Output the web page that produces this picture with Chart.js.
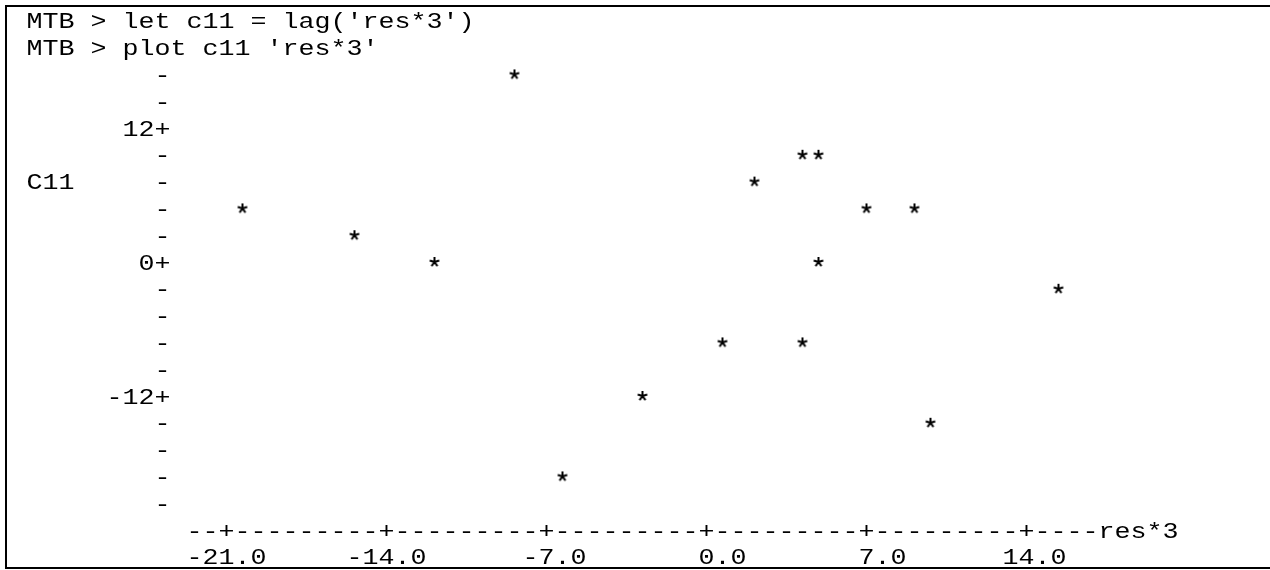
<!DOCTYPE html>
<html>
<head>
<meta charset="utf-8">
<script src="https://cdn.jsdelivr.net/npm/chart.js@4"></script>
<style>
  html, body { margin: 0; padding: 0; background: #fff; }
  #wrap { width: 1270px; height: 570px; }
</style>
</head>
<body>
<div id="wrap"><canvas id="chart" width="1270" height="570"></canvas></div>
<script>
// session text and axis labels
const commandLines = ["MTB > let c11 = lag('res*3')", "MTB > plot c11 'res*3'"];
const yName = 'C11';
const xName = 'res*3';
const xTicks = [-21, -14, -7, 0, 7, 14];
const yTicks = [12, 0, -12];

// plotted points (res*3 across, C11 up)
const res3 = [-8.4, 4.2, 4.9, 2.1, -20.3, 7.0, 9.1, -15.4, -11.9, 4.9, 15.4, 0.7, 4.2, -2.8, 9.8, -6.3];
const c11  = [16.8, 9.6, 9.6, 7.2, 4.8, 4.8, 4.8, 2.4, 0, 0, -2.4, -7.2, -7.2, -12, -14.4, -19.2];

// character grid of the printout
const W = 1270, H = 570;
const CELL_W = 16;      // width of one character
const ROW_H = 26.8;     // line spacing
const COL0_X = 26.5;    // left edge of column 0
const ROW0_Y = 20.8;    // middle of row 0
const FONT_PX = 22;
const FONT = FONT_PX + 'px "Liberation Mono", "DejaVu Sans Mono", monospace';
const SX = CELL_W / (0.6 * FONT_PX);

const Y_AXIS_COL = 8, Y_ZERO_ROW = 9, Y_TOP_ROW = 2, Y_BOT_ROW = 18;
const X_AXIS_ROW = 19, X_FIRST_TICK_COL = 12, X_START_COL = 10, X_END_COL = 66;
const COLS_PER_XTICK = 10, ROWS_PER_YTICK = 5;

const xPerCol = (xTicks[1] - xTicks[0]) / COLS_PER_XTICK;
const yPerRow = (yTicks[0] - yTicks[1]) / ROWS_PER_YTICK;

const colX = c => COL0_X + CELL_W * (c + 0.5);
const rowY = r => ROW0_Y + ROW_H * r;

// scale limits so that values land on the character grid
const xAt = px => xTicks[0] + ((px - COL0_X) / CELL_W - 0.5 - X_FIRST_TICK_COL) * xPerCol;
const yAt = py => (Y_ZERO_ROW - (py - ROW0_Y) / ROW_H) * yPerRow;

function drawChars(ctx, str, cx0, cy, cap) {
  for (let i = 0; i < str.length; i++) {
    const ch = str[i];
    if (ch === ' ') continue;
    ctx.save();
    ctx.translate(cx0 + i * CELL_W, cy + cap / 2);
    ctx.scale(SX, 1);
    ctx.fillText(ch, 0, 0);
    ctx.restore();
  }
}

// asterisk used as the point marker (5 spokes, centred in the image)
const star = document.createElement('canvas');
star.width = 16; star.height = 16;
(function () {
  const g = star.getContext('2d');
  g.strokeStyle = '#000';
  g.lineWidth = 2;
  g.lineCap = 'butt';
  g.beginPath();
  for (let k = 0; k < 5; k++) {
    const a = -Math.PI / 2 + k * 2 * Math.PI / 5;
    g.moveTo(8, 8);
    g.lineTo(8 + 5 * Math.cos(a), 8 + 5 * Math.sin(a));
  }
  g.stroke();
})();

const printout = {
  id: 'printout',
  afterDraw(chart) {
    const ctx = chart.ctx;
    const xs = chart.scales.x, ys = chart.scales.y;
    ctx.save();
    ctx.fillStyle = '#000';
    // frame
    ctx.fillRect(5, 5, W - 5, 2);
    ctx.fillRect(5, 5, 2, H - 6);
    ctx.fillRect(5, 567, W - 5, 2);

    ctx.font = FONT;
    ctx.textAlign = 'center';
    ctx.textBaseline = 'alphabetic';
    const cap = ctx.measureText('H').actualBoundingBoxAscent;

    commandLines.forEach((s, i) => drawChars(ctx, s, colX(0), rowY(i), cap));

    // y axis
    const tickRows = yTicks.map(t => Math.round((ys.getPixelForValue(t) - ROW0_Y) / ROW_H));
    for (let r = Y_TOP_ROW; r <= Y_BOT_ROW; r++) {
      if (!tickRows.includes(r)) drawChars(ctx, '-', colX(Y_AXIS_COL), rowY(r), cap);
    }
    yTicks.forEach(t => {
      const py = ys.getPixelForValue(t);
      const lab = String(t) + '+';
      drawChars(ctx, lab, colX(Y_AXIS_COL) - (lab.length - 1) * CELL_W, py, cap);
    });
    drawChars(ctx, yName, colX(0), rowY(6), cap);

    // x axis
    const tickCols = xTicks.map(t => Math.round((xs.getPixelForValue(t) - COL0_X) / CELL_W - 0.5));
    for (let c = X_START_COL; c <= X_END_COL; c++) {
      if (!tickCols.includes(c)) drawChars(ctx, '-', colX(c), rowY(X_AXIS_ROW), cap);
    }
    xTicks.forEach(t => {
      const px = xs.getPixelForValue(t);
      drawChars(ctx, '+', px, rowY(X_AXIS_ROW), cap);
      const lab = t.toFixed(1);
      const k = lab.indexOf('.') - 1;
      drawChars(ctx, lab, px - k * CELL_W, rowY(X_AXIS_ROW + 1), cap);
    });
    drawChars(ctx, xName, colX(X_END_COL + 1), rowY(X_AXIS_ROW), cap);
    ctx.restore();
  }
};

new Chart(document.getElementById('chart'), {
  type: 'scatter',
  data: {
    datasets: [{
      label: yName,
      data: res3.map((x, i) => ({ x: x, y: c11[i] })),
      pointStyle: star,
      pointRadius: 6,
      pointHoverRadius: 6
    }]
  },
  options: {
    responsive: false,
    animation: false,
    layout: { padding: 0, autoPadding: false },
    plugins: { legend: { display: false }, tooltip: { enabled: false } },
    scales: {
      x: { type: 'linear', display: false, min: xAt(0), max: xAt(W) },
      y: { type: 'linear', display: false, min: yAt(H), max: yAt(0) }
    }
  },
  plugins: [printout]
});
</script>
</body>
</html>
